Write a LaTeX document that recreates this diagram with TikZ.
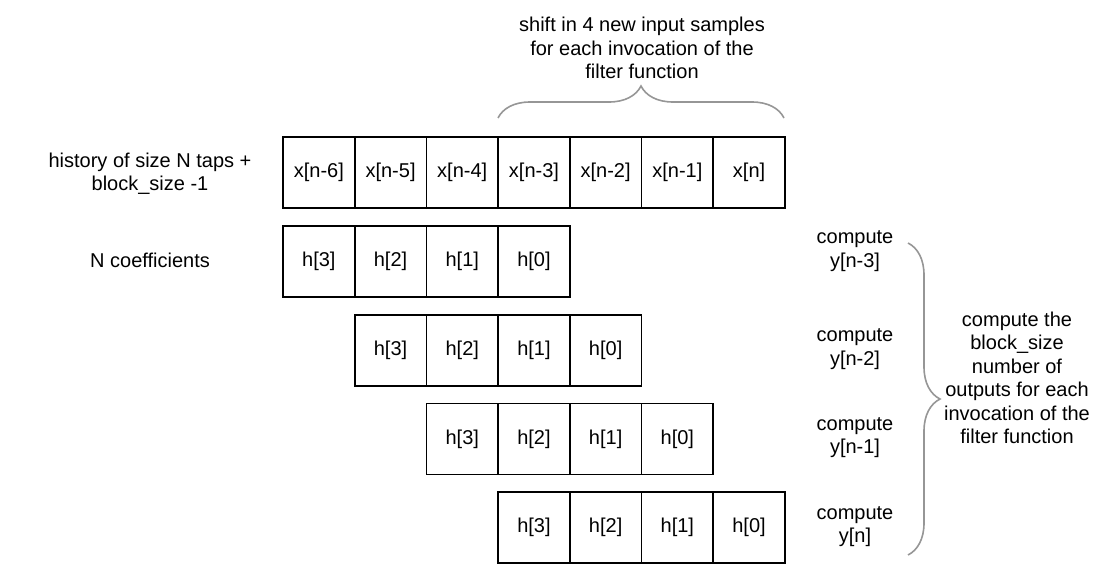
\documentclass[tikz,border=0pt]{standalone}
\usepackage{fontspec}
\setmainfont{Liberation Sans}
\usetikzlibrary{decorations.pathreplacing}
\definecolor{bracegray}{RGB}{150,150,150}

\tikzset{
  cell/.style={draw, line width=1.6pt, minimum width=71.7pt, minimum height=71pt, inner sep=0pt, font=\fontsize{20}{23.5}\selectfont},
  note/.style={align=center, font=\fontsize{20}{23.5}\selectfont},
  curly/.style={decorate, decoration={brace, amplitude=32pt}, draw=bracegray, line width=1.6pt}
}

\begin{document}
\begin{tikzpicture}[x=1pt, y=-1pt]
  \useasboundingbox (0,0) rectangle (1111,568);

  % history buffer
  \foreach \i/\lab in {0/x[n-6], 1/x[n-5], 2/x[n-4], 3/x[n-3], 4/x[n-2], 5/x[n-1], 6/x[n]}
    \node[cell] (x\i) at ({283+71.7*(\i+0.5)},172.5) {\lab};

  % coefficients, shifted one sample per output
  \foreach \r in {1,...,4}
    \foreach \c/\lab in {0/h[3], 1/h[2], 2/h[1], 3/h[0]}
      \node[cell] (h\r\c) at ({283+71.7*(\r+\c-0.5)},{261.5+88.7*(\r-1)}) {\lab};

  % left labels
  \node[note] (histlabel) at (150,173.5) {history of size N taps +\\block\_size -1};
  \node[note] (coeflabel) at (150,260) {N coefficients};

  % top brace
  \coordinate (shiftl) at (498,118);
  \coordinate (shiftr) at (784,118);
  \draw[curly] (shiftl) -- (shiftr);
  \node[note] (shiftnote) at (642,48) {shift in 4 new input samples\\for each invocation of the\\filter function};

  % outputs
  \node[note] (out1) at (855,251) {compute\\y[n-3]};
  \node[note] (out2) at (855,349) {compute\\y[n-2]};
  \node[note] (out3) at (855,437.5) {compute\\y[n-1]};
  \node[note] (out4) at (855,526.5) {compute\\y[n]};

  % right brace
  \coordinate (outt) at (908,243);
  \coordinate (outb) at (908,555);
  \draw[curly] (outt) -- (outb);
  \node[note] (blocknote) at (1017,378) {compute the\\block\_size\\number of\\outputs for each\\invocation of the\\filter function};
\end{tikzpicture}
\end{document}
